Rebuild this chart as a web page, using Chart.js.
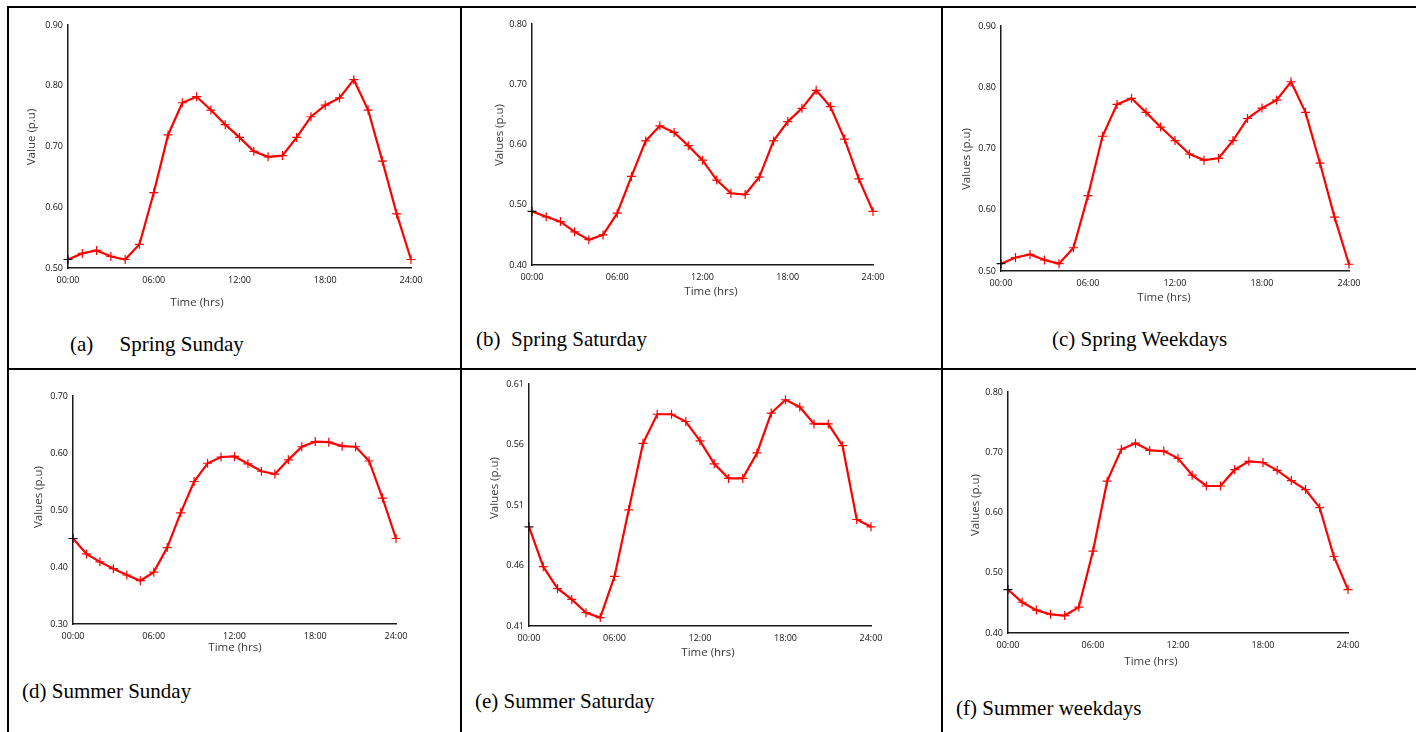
<!DOCTYPE html>
<html>
<head>
<meta charset="utf-8">
<title>Load profiles</title>
<script src="https://cdn.jsdelivr.net/npm/chart.js@4.4.0/dist/chart.umd.min.js"></script>
<style>
  body { margin: 0; background: #fff; }
  #page { position: relative; width: 1416px; height: 732px; overflow: hidden; background: #fff; }
  .rule { position: absolute; background: #000; }
  #page canvas { position: absolute; }
  .caption {
    position: absolute;
    font-family: "Liberation Serif", "Times New Roman", serif;
    font-size: 21px;
    line-height: 21px;
    white-space: pre;
    color: #000;
  }
</style>
</head>
<body>
<div id="page">
  <!-- table rules -->
  <div class="rule" style="left:7px; top:6px; width:1409px; height:2px;"></div>
  <div class="rule" style="left:7px; top:368px; width:1409px; height:2px;"></div>
  <div class="rule" style="left:7px; top:6px; width:2px; height:726px;"></div>
  <div class="rule" style="left:460px; top:6px; width:2px; height:726px;"></div>
  <div class="rule" style="left:941px; top:6px; width:2px; height:726px;"></div>
</div>
<script>
// hour of day for each reading
const hours = [0, 1, 2, 3, 4, 5, 6, 7, 8, 9, 10, 11, 12, 13, 14, 15, 16, 17, 18, 19, 20, 21, 22, 23, 24];
const hourTicks = [0, 6, 12, 18, 24];

// load in p.u. per hour
const springSunday = [0.514, 0.524, 0.529, 0.519, 0.514, 0.539, 0.624, 0.719, 0.772, 0.782, 0.760, 0.736, 0.715,
                      0.692, 0.683, 0.685, 0.715, 0.749, 0.768, 0.780, 0.810, 0.760, 0.676, 0.589, 0.514];
const springSaturday = [0.489, 0.480, 0.472, 0.455, 0.442, 0.450, 0.486, 0.547, 0.606, 0.631, 0.620, 0.598, 0.574,
                        0.541, 0.519, 0.517, 0.546, 0.606, 0.638, 0.660, 0.690, 0.663, 0.609, 0.543, 0.489];
const springWeekdays = [0.512, 0.522, 0.527, 0.518, 0.512, 0.538, 0.623, 0.720, 0.772, 0.782, 0.759, 0.735, 0.713,
                        0.691, 0.681, 0.684, 0.713, 0.749, 0.766, 0.779, 0.809, 0.759, 0.676, 0.588, 0.511];
const summerSunday = [0.450, 0.423, 0.409, 0.397, 0.386, 0.376, 0.391, 0.434, 0.495, 0.550, 0.582, 0.593, 0.594,
                      0.581, 0.568, 0.563, 0.588, 0.611, 0.620, 0.619, 0.612, 0.611, 0.586, 0.521, 0.450];
const summerSaturday = [0.492, 0.459, 0.441, 0.432, 0.421, 0.417, 0.451, 0.506, 0.561, 0.585, 0.585, 0.579, 0.563,
                        0.544, 0.532, 0.532, 0.553, 0.586, 0.597, 0.591, 0.577, 0.577, 0.559, 0.498, 0.492];
const summerWeekdays = [0.472, 0.451, 0.438, 0.431, 0.429, 0.443, 0.536, 0.652, 0.705, 0.715, 0.703, 0.702, 0.690,
                        0.662, 0.644, 0.644, 0.671, 0.685, 0.683, 0.670, 0.653, 0.638, 0.608, 0.527, 0.472];

// y axis ranges: [min, max, step]
const springSundayRange = [0.50, 0.90, 0.10];
const springSaturdayRange = [0.40, 0.80, 0.10];
const springWeekdaysRange = [0.50, 0.90, 0.10];
const summerSundayRange = [0.30, 0.70, 0.10];
const summerSaturdayRange = [0.41, 0.61, 0.05];
const summerWeekdaysRange = [0.40, 0.80, 0.10];

const captions = ['(a)     Spring Sunday', '(b)  Spring Saturday', '(c) Spring Weekdays',
                  '(d) Summer Sunday', '(e) Summer Saturday', '(f) Summer weekdays'];
const yTitles = ['Value (p.u)', 'Values (p.u)', 'Values (p.u)', 'Values (p.u)', 'Values (p.u)', 'Values (p.u)'];
const xTitle = 'Time (hrs)';

// page layout of each panel: plot box [l, t, r, b], title centres, caption spot
const panels = [
  { values: springSunday,   range: springSundayRange,   box: [68, 25, 411, 268],    xt: [197, 303],  yt: [32, 137],  cap: [70, 334] },
  { values: springSaturday, range: springSaturdayRange, box: [532, 24, 873, 265],   xt: [711, 292],  yt: [500, 135], cap: [476, 329] },
  { values: springWeekdays, range: springWeekdaysRange, box: [1001, 26, 1349, 271], xt: [1164, 298], yt: [967, 159], cap: [1052, 329] },
  { values: summerSunday,   range: summerSundayRange,   box: [73, 396, 396, 624],   xt: [235, 648],  yt: [39, 497],  cap: [22, 681] },
  { values: summerSaturday, range: summerSaturdayRange, box: [529, 384, 871, 626],  xt: [708, 653],  yt: [495, 488], cap: [475, 691] },
  { values: summerWeekdays, range: summerWeekdaysRange, box: [1008, 392, 1348, 633], xt: [1151, 662], yt: [976, 505], cap: [956, 698] }
];

const RED = '#ff0000';
const AXIS = '#1a1a1a';
const TICK = '#111';
const PAD_L = 70, PAD_T = 14, PAD_R = 30, PAD_B = 45;

// axis titles placed at fixed spots on the canvas
const axisTitles = {
  id: 'axisTitles',
  afterDraw(chart, args, opts) {
    const ctx = chart.ctx;
    ctx.save();
    ctx.fillStyle = '#3a3a3a';
    ctx.font = '11.5px "Open Sans", sans-serif';
    ctx.textAlign = 'center';
    ctx.textBaseline = 'middle';
    ctx.fillText(opts.xText, opts.xPos[0] - opts.origin[0], opts.xPos[1] - opts.origin[1]);
    ctx.translate(opts.yPos[0] - opts.origin[0], opts.yPos[1] - opts.origin[1]);
    ctx.rotate(-Math.PI / 2);
    ctx.fillText(opts.yText, 0, 0);
    ctx.restore();
  }
};

const page = document.getElementById('page');

panels.forEach((p, i) => {
  const [l, t, r, b] = p.box;
  const canvas = document.createElement('canvas');
  const left = l - PAD_L, top = t - PAD_T;
  canvas.width = (r - l) + PAD_L + PAD_R;
  canvas.height = (b - t) + PAD_T + PAD_B;
  canvas.style.left = left + 'px';
  canvas.style.top = top + 'px';
  page.appendChild(canvas);

  const [yMin, yMax, yStep] = p.range;

  new Chart(canvas.getContext('2d'), {
    type: 'line',
    data: {
      datasets: [{
        data: hours.map((h, k) => ({ x: h, y: p.values[k] })),
        borderColor: RED,
        borderWidth: 2.2,
        tension: 0,
        clip: false,
        pointStyle: 'cross',
        pointRadius: 4.5,
        pointBorderWidth: 1.2,
        // first marker sits on the axis and shows dark
        pointBorderColor: p.values.map((v, k) => k === 0 ? '#111' : RED),
        pointBackgroundColor: RED
      }]
    },
    plugins: [axisTitles],
    options: {
      responsive: false,
      animation: false,
      devicePixelRatio: 1,
      layout: { padding: { left: 0, top: PAD_T, right: PAD_R, bottom: 0 } },
      plugins: {
        legend: { display: false },
        tooltip: { enabled: false },
        axisTitles: {
          origin: [left, top],
          xText: xTitle,
          xPos: p.xt,
          yText: yTitles[i],
          yPos: p.yt
        }
      },
      scales: {
        x: {
          type: 'linear',
          min: 0,
          max: 24,
          afterFit: s => { s.height = PAD_B; },
          afterBuildTicks: s => { s.ticks = hourTicks.map(v => ({ value: v })); },
          ticks: {
            padding: 7,
            color: TICK,
            font: { family: '"Open Sans", sans-serif', size: 9 },
            maxRotation: 0,
            callback: v => String(v).padStart(2, '0') + ':00'
          },
          grid: { display: false, drawTicks: false },
          border: { display: true, color: AXIS, width: 1.5 }
        },
        y: {
          min: yMin,
          max: yMax,
          afterFit: s => { s.width = PAD_L; },
          ticks: {
            stepSize: yStep,
            padding: 5,
            color: TICK,
            font: { family: '"Open Sans", sans-serif', size: 9 },
            callback: v => Number(v).toFixed(2)
          },
          grid: { display: false, drawTicks: false },
          border: { display: true, color: AXIS, width: 1.5 }
        }
      }
    }
  });

  const cap = document.createElement('div');
  cap.className = 'caption';
  cap.style.left = p.cap[0] + 'px';
  cap.style.top = p.cap[1] + 'px';
  cap.textContent = captions[i];
  page.appendChild(cap);
});
</script>
</body>
</html>
